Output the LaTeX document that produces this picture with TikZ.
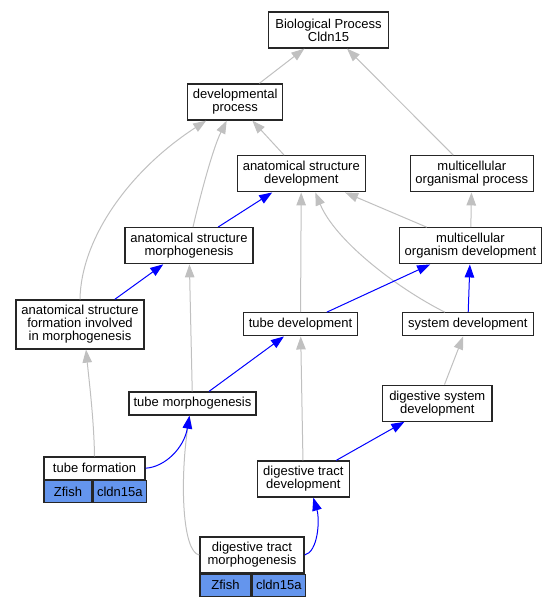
\documentclass[tikz,border=0pt]{standalone}
\usepackage{fontspec}
\setmainfont{Liberation Sans}
\usetikzlibrary{positioning,arrows.meta}
\definecolor{EdgeGray}{HTML}{C0C0C0}
\definecolor{CellBlue}{HTML}{6495ED}

\begin{document}
\begin{tikzpicture}[x=1pt, y=-1pt, font=\fontsize{13}{13}\selectfont, line width=1pt]
    % Styles
    \tikzstyle{term} = [draw, rectangle, line width=1.3pt, draw=black!85, inner sep=0pt, align=center, fill=white, minimum height=23pt]
    \tikzstyle{term2} = [term, minimum height=36pt]
    \tikzstyle{term3} = [term, minimum height=49pt]
    \tikzstyle{cell} = [draw, rectangle, line width=1.3pt, draw=black!85, inner sep=0pt, minimum height=22pt, fill=CellBlue]
    \tikzstyle{isa} = [color=EdgeGray, -{Triangle[length=13pt, width=9.5pt]}]
    \tikzstyle{partof} = [color=blue, -{Triangle[length=13pt, width=9.5pt]}]

    \useasboundingbox (0,0) rectangle (557,605);

    % Upper terms
    \node [term2, minimum width=120pt] (Bp) at (328.5,30) {Biological Process\\Cldn15};
    \node [term2, minimum width=95pt] (DevProc) at (235.2,102) {developmental\\process};
    \node [term2, minimum width=128pt] (AsDev) at (301.3,173.8) {anatomical structure\\development};
    \node [term2, minimum width=123pt] (McoProc) at (471.8,173.8) {multicellular\\organismal process};
    \node [term2, minimum width=128pt] (AsMorph) at (189,245.7) {anatomical structure\\morphogenesis};
    \node [term2, minimum width=141.6pt] (McoDev) at (470.5,245.8) {multicellular\\organism development};

    % Middle terms
    \node [term3, minimum width=128pt] (AsForm) at (80,324.5) {anatomical structure\\formation involved\\in morphogenesis};
    \node [term, minimum width=113.6pt] (TubeDev) at (300.5,324.3) {tube development};
    \node [term, minimum width=131pt] (SysDev) at (467.8,324.3) {system development};
    \node [term, minimum width=127pt] (TubeMorph) at (192.5,403.5) {tube morphogenesis};
    \node [term2, minimum width=109.3pt] (DigSysDev) at (437.3,403.2) {digestive system\\development};
    \node [term2, minimum width=92pt] (DigTractDev) at (303.3,479) {digestive tract\\development};

    % Annotated terms
    \node [term, minimum width=101pt, minimum height=22.5pt] (TubeForm) at (94.5,468.2) {tube formation};
    \node [cell, minimum width=48pt, below right=0pt and 0pt of TubeForm.south west] (TubeFormZ) {Zfish};
    \node [cell, minimum width=53pt, right=0pt of TubeFormZ] (TubeFormG) {cldn15a};

    \node [term2, minimum width=104pt] (DigTractMorph) at (252,555) {digestive tract\\morphogenesis};
    \node [cell, minimum width=51pt, below right=0pt and 0pt of DigTractMorph.south west] (DigTractMorphZ) {Zfish};
    \node [cell, minimum width=53pt, right=0pt of DigTractMorphZ] (DigTractMorphG) {cldn15a};

    % Edges
    % is_a
    \draw [isa] (DevProc) -- (Bp);
    \draw [isa] (McoProc) -- (Bp);
    \draw [isa] (AsDev) -- (DevProc);
    \draw [isa] ([xshift=4pt]AsMorph.north) .. controls (198,205) and (212,150) .. ([xshift=-8.5pt]DevProc.south);
    \draw [isa] (AsForm.north) .. controls (81,238) and (130,170) .. ([xshift=-29pt]DevProc.south);
    \draw [isa] (McoDev) -- (AsDev);
    \draw [isa] (TubeDev) -- (AsDev);
    \draw [isa] ([xshift=-23pt]SysDev.north) .. controls (395,287) and (335,240) .. ([xshift=14pt]AsDev.south);
    \draw [isa] (McoDev) -- (McoProc);
    \draw [isa] (TubeMorph) -- (AsMorph);
    \draw [isa] (DigSysDev) -- (SysDev);
    \draw [isa] (DigTractDev) -- (TubeDev);
    \draw [isa] (TubeForm.north) .. controls (94,420) and (89,380) .. ([xshift=6pt]AsForm.south);
    \draw [isa] (DigTractMorph.west) .. controls (182,552) and (180,480) .. ([xshift=-3pt]TubeMorph.south);

    % part_of
    \draw [partof] (AsMorph) -- (AsDev);
    \draw [partof] (TubeDev) -- (McoDev);
    \draw [partof] (SysDev) -- (McoDev);
    \draw [partof] (AsForm) -- (AsMorph);
    \draw [partof] (TubeMorph) -- (TubeDev);
    \draw [partof] (DigTractDev) -- (DigSysDev);
    \draw [partof] (TubeForm.east) .. controls (165,467) and (184,448) .. ([xshift=-3pt]TubeMorph.south);
    \draw [partof] (DigTractMorph.east) .. controls (318,552) and (320,520) .. ([xshift=10pt]DigTractDev.south);

\end{tikzpicture}
\end{document}
